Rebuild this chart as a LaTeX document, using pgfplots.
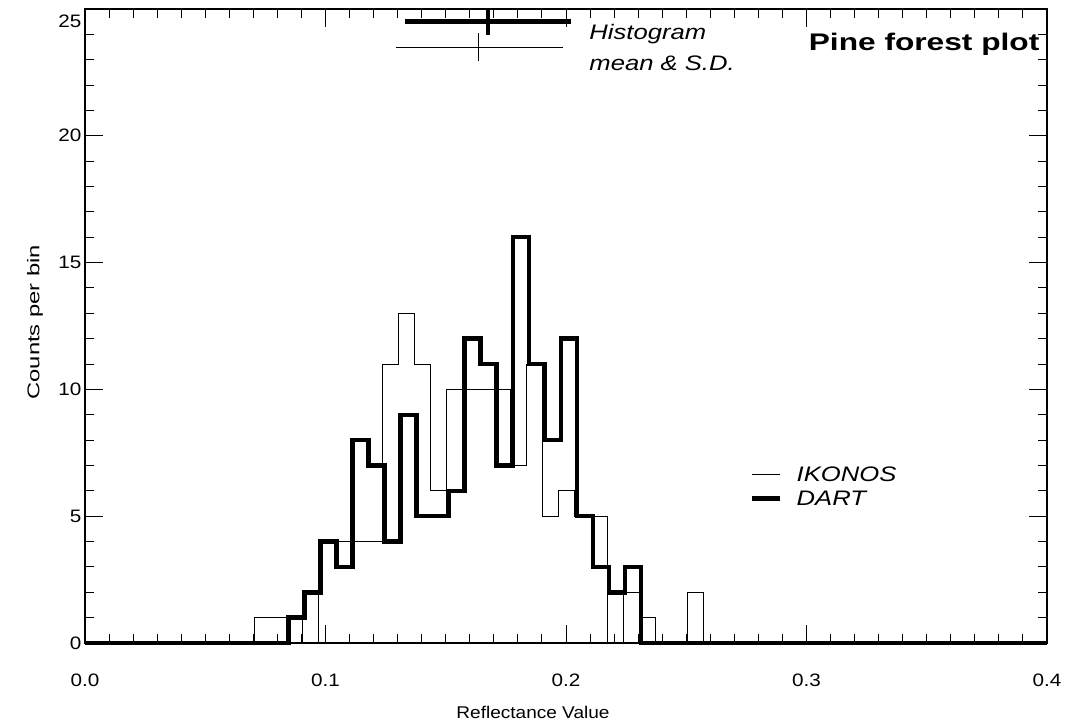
\documentclass[border=0pt]{standalone}
\usepackage{fontspec}
\setmainfont{Liberation Sans}
\usepackage{graphicx}
\usepackage{pgfplots}
\pgfplotsset{compat=1.18}
\begin{document}
\begin{tikzpicture}
\useasboundingbox (-85pt,-80pt) rectangle (984pt,643pt);
\begin{axis}[
  at={(0pt,0pt)}, anchor=south west,
  scale only axis, width=962pt, height=634pt,
  xmin=0, xmax=0.4, ymin=0, ymax=25,
  clip=false,
  axis line style={line width=1.2pt},
  tick style={line width=1pt, black},
  major tick length=18pt, minor tick length=9pt,
  minor x tick num=9, minor y tick num=4,
  xtick={0,0.1,0.2,0.3,0.4},
  xticklabels={\scalebox{1.15}[1]{0.0},\scalebox{1.15}[1]{0.1},\scalebox{1.15}[1]{0.2},\scalebox{1.15}[1]{0.3},\scalebox{1.15}[1]{0.4}},
  ytick={0,5,10,15,20,25},
  yticklabels={\scalebox{1.15}[1]{0},\scalebox{1.15}[1]{5},\scalebox{1.15}[1]{10},\scalebox{1.15}[1]{15},\scalebox{1.15}[1]{20},\raisebox{-19pt}[0pt][0pt]{\scalebox{1.15}[1]{25}}},
  ticklabel style={font=\fontsize{18}{18}\selectfont},
  xticklabel style={yshift=-27pt},
  xlabel={\scalebox{1.12}[1]{Reflectance Value}},
  ylabel={\scalebox{1.4}[1]{Counts per bin}},
  label style={font=\fontsize{17}{17}\selectfont},
  xlabel style={at={(axis description cs:0.4657,0)}, anchor=center, yshift=-69pt},
  ylabel style={at={(axis description cs:0,0.506)}, anchor=center, yshift=50pt},
  legend style={at={(axis cs:0.2765,7.05)}, anchor=north west, draw=none, fill=none,
    font=\fontsize{21}{24}\selectfont\itshape, inner sep=0pt, row sep=4pt,
    nodes={inner sep=2pt}},
  legend cell align=left,
  legend image code/.code={\draw[#1] (0pt,0pt) -- (28pt,0pt);},
]
% IKONOS (thin)
\addplot[const plot mark left, black, line width=1pt] coordinates {
(0,0) (0.07040,1)
(0.08373,0) (0.08383,1)
(0.09040,0) (0.09050,2)
(0.09707,0) (0.09717,4)
(0.12373,11) (0.13040,13) (0.13707,11) (0.14373,6) (0.15040,10)
(0.17707,7) (0.18373,11) (0.19040,5) (0.19707,6) (0.20373,5)
(0.21707,0) (0.21717,2)
(0.22373,0) (0.22383,2)
(0.23040,1) (0.23707,0) (0.25040,2) (0.25707,0) (0.4,0)
};
\addlegendentry{\hspace*{12pt}\scalebox{1.22}[1]{IKONOS}}
% DART (thick)
\addplot[const plot mark left, black, line width=4.5pt] coordinates {
(0,0) (0.08453,1) (0.09120,2) (0.09787,4) (0.10453,3) (0.11120,8)
(0.11787,7) (0.12453,4) (0.13120,9) (0.13787,5) (0.15120,6)
(0.15787,12) (0.16453,11) (0.17120,7) (0.17787,16) (0.18453,11)
(0.19120,8) (0.19787,12) (0.20453,5) (0.21120,3) (0.21787,2)
(0.22453,3) (0.23120,0) (0.4,0)
};
\addlegendentry{\hspace*{12pt}\scalebox{1.22}[1]{DART}}
% histogram mean and S.D.
\addplot[forget plot, black, line width=4.5pt] coordinates {(0.1331,24.5) (0.2020,24.5)};
\addplot[forget plot, black, line width=4pt] coordinates {(0.1677,23.97) (0.1677,25.0)};
\addplot[forget plot, black, line width=1pt] coordinates {(0.1293,23.5) (0.1986,23.5)};
\addplot[forget plot, black, line width=1pt] coordinates {(0.1635,22.96) (0.1635,24.07)};
\node[anchor=west, font=\fontsize{21}{24}\selectfont\itshape] at (axis cs:0.2083,24.0) {\scalebox{1.22}[1]{Histogram}};
\node[anchor=west, font=\fontsize{21}{24}\selectfont\itshape] at (axis cs:0.2083,22.85) {\scalebox{1.22}[1]{mean \& S.D.}};
\node[anchor=west, font=\fontsize{24}{27}\selectfont\bfseries] at (axis cs:0.2995,23.62) {\scalebox{1.32}[1]{Pine forest plot}};
\end{axis}
\end{tikzpicture}
\end{document}
